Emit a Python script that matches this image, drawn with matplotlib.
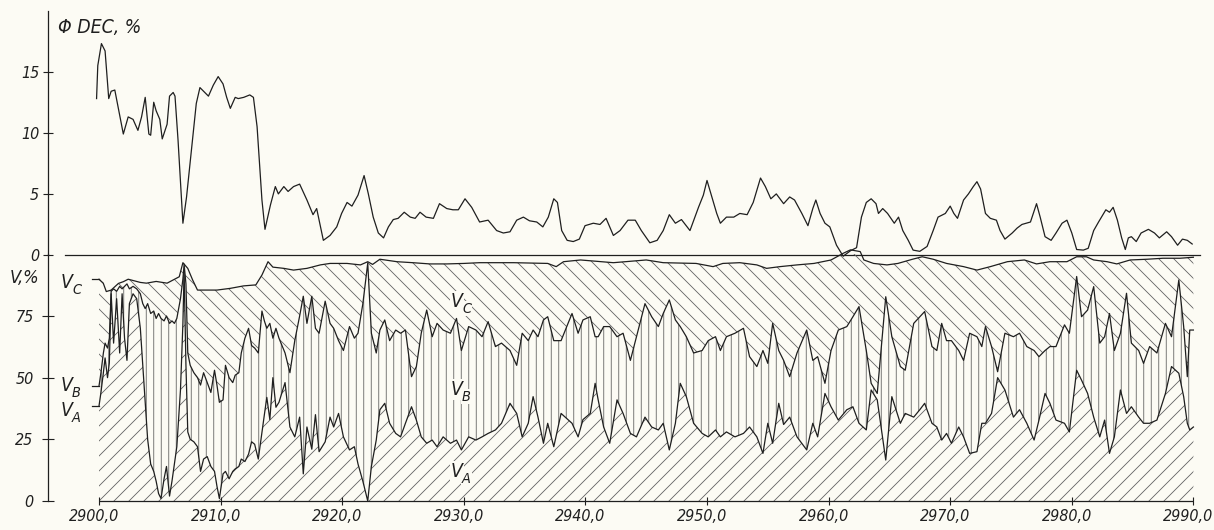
import os
import numpy as np
import matplotlib
matplotlib.use("Agg")
import matplotlib.pyplot as plt
import matplotlib.transforms as mtransforms
from matplotlib import font_manager as fm

# ---------------------------------------------------------------- data
XTICKS = [2900, 2910, 2920, 2930, 2940, 2950, 2960, 2970, 2980, 2990]
XTICK_LABELS = ["2900,0", "2910,0", "2920,0", "2930,0", "2940,0",
                "2950,0", "2960,0", "2970,0", "2980,0", "2990,0"]
DEC_TICKS = [0, 5, 10, 15]
V_TICKS = [0, 25, 50, 75]

# decompaction coefficient, %
DEC_DEPTH = [2899.8, 2899.9, 2900.2, 2900.5, 2900.8, 2901.0, 2901.3, 2902.0, 2902.4, 2902.8,
             2903.2, 2903.5, 2903.8, 2904.1, 2904.25, 2904.5, 2904.7, 2905.0, 2905.2, 2905.6,
             2905.8, 2906.1, 2906.25, 2906.5, 2906.9, 2907.2, 2907.6, 2908.0, 2908.3, 2908.6,
             2909.0, 2909.4, 2909.8, 2910.2, 2910.5, 2910.8, 2911.2, 2911.45, 2911.9, 2912.4,
             2912.7, 2913.0, 2913.4, 2913.65, 2914.1, 2914.5, 2914.75, 2915.2, 2915.55, 2916.0,
             2916.5, 2917.1, 2917.6, 2917.9, 2918.45, 2919.0, 2919.55, 2919.95, 2920.4, 2920.8,
             2921.3, 2921.8, 2922.15, 2922.55, 2922.97, 2923.4, 2923.8, 2924.2, 2924.6, 2925.1,
             2925.6, 2926.0, 2926.4, 2926.9, 2927.5, 2928.0, 2928.6, 2929.1, 2929.55, 2930.1,
             2930.65, 2931.3, 2932.0, 2932.7, 2933.25, 2933.8, 2934.35, 2934.9, 2935.4, 2936.0,
             2936.5, 2936.95, 2937.4, 2937.7, 2938.05, 2938.5, 2939.0, 2939.5, 2939.97, 2940.65,
             2941.2, 2941.7, 2942.3, 2942.85, 2943.5, 2944.1, 2944.6, 2945.3, 2945.9, 2946.4,
             2946.9, 2947.4, 2947.9, 2948.6, 2949.3, 2949.7, 2950.0, 2950.4, 2950.8, 2951.1,
             2951.6, 2952.2, 2952.7, 2953.3, 2953.8, 2954.4, 2954.8, 2955.25, 2955.7, 2956.3,
             2956.8, 2957.2, 2957.8, 2958.3, 2958.7, 2958.95, 2959.3, 2959.7, 2960.1, 2960.65,
             2961.2, 2961.8, 2962.3, 2962.7, 2963.1, 2963.5, 2963.9, 2964.1, 2964.45, 2964.85,
             2965.4, 2965.75, 2966.1, 2966.55, 2966.95, 2967.5, 2968.1, 2968.6, 2969.0, 2969.6,
             2970.0, 2970.3, 2970.6, 2971.1, 2971.5, 2971.9, 2972.2, 2972.5, 2972.9, 2973.3,
             2973.8, 2974.1, 2974.5, 2975.1, 2975.5, 2975.9, 2976.6, 2976.8, 2977.1, 2977.4,
             2977.8, 2978.3, 2978.7, 2979.2, 2979.6, 2980.0, 2980.4, 2980.95, 2981.35, 2981.8,
             2982.2, 2982.8, 2983.1, 2983.4, 2983.75, 2984.1, 2984.4, 2984.65, 2984.9, 2985.3,
             2985.7, 2986.3, 2986.8, 2987.2, 2987.8, 2988.2, 2988.7, 2989.1, 2989.5, 2989.9]
DEC = [12.8, 15.5, 17.3, 16.7, 12.8, 13.4, 13.5, 9.9, 11.3, 11.1,
       10.2, 11.3, 12.9, 9.9, 9.8, 12.5, 11.8, 11.1, 9.5, 10.7,
       13.0, 13.3, 13.0, 9.4, 2.6, 4.75, 8.6, 12.4, 13.7, 13.4,
       13.0, 13.9, 14.6, 14.0, 12.9, 12.0, 12.9, 12.8, 12.9, 13.1,
       12.9, 10.5, 4.5, 2.1, 4.1, 5.6, 5.0, 5.6, 5.2, 5.6,
       5.8, 4.5, 3.3, 3.8, 1.2, 1.6, 2.3, 3.4, 4.3, 4.0,
       4.9, 6.5, 5.0, 3.1, 1.8, 1.4, 2.3, 2.9, 3.0, 3.5,
       3.1, 3.0, 3.5, 3.1, 3.0, 4.2, 3.8, 3.7, 3.7, 4.6,
       3.9, 2.7, 2.85, 2.0, 1.8, 1.9, 2.85, 3.1, 2.8, 2.7,
       2.3, 3.1, 4.6, 4.3, 2.0, 1.2, 1.1, 1.3, 2.4, 2.6,
       2.5, 3.0, 1.6, 2.0, 2.85, 2.85, 2.0, 1.0, 1.2, 2.0,
       3.3, 2.6, 2.9, 2.0, 3.9, 4.9, 6.1, 4.75, 3.4, 2.6,
       3.1, 3.1, 3.4, 3.3, 4.3, 6.3, 5.6, 4.6, 5.0, 4.2,
       4.75, 4.5, 3.4, 2.4, 3.8, 4.5, 3.4, 2.6, 2.3, 0.8,
       -0.1, 0.35, 0.6, 3.1, 4.3, 4.6, 4.2, 3.4, 3.8, 3.4,
       2.6, 3.1, 2.0, 1.2, 0.4, 0.3, 0.7, 2.0, 3.1, 3.4,
       4.0, 3.4, 3.0, 4.5, 5.0, 5.6, 6.0, 5.4, 3.4, 3.0,
       2.85, 2.0, 1.3, 1.8, 2.2, 2.5, 2.7, 3.3, 4.2, 3.1,
       1.5, 1.2, 1.8, 2.6, 2.85, 1.8, 0.45, 0.4, 0.55, 2.0,
       2.7, 3.7, 3.5, 3.9, 2.85, 1.4, 0.45, 1.4, 1.5, 1.1,
       1.8, 2.1, 1.8, 1.4, 1.9, 1.5, 0.8, 1.3, 1.2, 0.9]

# cumulative volume fractions, %
VC_DEPTH = [2900.0, 2900.35, 2900.6, 2901.0, 2901.6, 2902.0, 2902.4, 2903.4, 2903.9, 2904.7,
            2905.6, 2906.1, 2906.6, 2906.9, 2907.3, 2907.7, 2908.1, 2909.7, 2910.8, 2911.9,
            2912.9, 2913.4, 2913.9, 2914.3, 2915.2, 2916.0, 2917.1, 2918.2, 2919.0, 2920.4,
            2921.5, 2922.1, 2922.5, 2923.1, 2924.5, 2925.8, 2927.2, 2928.6, 2930.0, 2931.3,
            2934.1, 2936.9, 2937.6, 2938.2, 2939.6, 2942.3, 2945.0, 2946.4, 2949.1, 2950.5,
            2951.3, 2952.7, 2954.1, 2954.9, 2956.0, 2957.4, 2958.8, 2960.2, 2961.2, 2961.8,
            2962.6, 2962.9, 2963.7, 2964.8, 2965.7, 2966.9, 2967.7, 2968.6, 2969.7, 2971.1,
            2972.2, 2973.3, 2974.7, 2976.1, 2977.1, 2978.2, 2979.6, 2980.4, 2981.2, 2981.8,
            2982.9, 2983.7, 2984.8, 2986.2, 2987.5, 2988.9, 2990.0]
V_C = [89.9, 88.3, 84.9, 85.5, 88.2, 88.9, 89.9, 88.6, 88.3, 89.0,
       88.3, 89.6, 90.9, 96.6, 94.3, 89.6, 85.5, 85.5, 86.2, 87.2,
       87.6, 91.6, 97.0, 94.8, 94.3, 93.6, 94.3, 95.7, 96.3, 96.3,
       95.7, 97.0, 95.9, 98.0, 97.0, 96.6, 96.1, 96.1, 96.3, 96.6,
       96.6, 96.3, 95.0, 97.0, 97.7, 96.6, 97.7, 96.6, 96.3, 95.0,
       96.3, 96.6, 95.7, 94.3, 95.0, 95.7, 96.3, 97.7, 100.4, 101.8,
       101.1, 97.7, 96.3, 95.7, 96.3, 98.0, 99.0, 98.0, 96.3, 95.0,
       93.6, 95.0, 97.0, 97.7, 96.1, 97.0, 97.0, 99.0, 99.0, 97.7,
       97.0, 96.1, 97.7, 98.0, 98.4, 98.4, 98.8]

V_DEPTH = [2900.0, 2900.16, 2900.36, 2900.5, 2900.7, 2900.85, 2901.0, 2901.2, 2901.45, 2901.7,
           2901.9, 2902.1, 2902.3, 2902.5, 2902.8, 2903.1, 2903.4, 2903.6, 2903.8, 2904.0,
           2904.25, 2904.5, 2904.7, 2904.9, 2905.1, 2905.35, 2905.55, 2905.8, 2906.0, 2906.2,
           2906.4, 2906.7, 2906.9, 2907.0, 2907.15, 2907.3, 2907.5, 2907.8, 2908.1, 2908.35,
           2908.6, 2908.9, 2909.2, 2909.5, 2909.7, 2909.9, 2910.2, 2910.4, 2910.7, 2911.0,
           2911.2, 2911.5, 2911.7, 2912.0, 2912.3, 2912.55, 2912.8, 2913.1, 2913.4, 2913.6,
           2913.8, 2914.05, 2914.3, 2914.55, 2914.8, 2915.3, 2915.7, 2916.1, 2916.5, 2916.8,
           2917.1, 2917.5, 2917.8, 2918.1, 2918.6, 2919.0, 2919.3, 2919.7, 2920.1, 2920.6,
           2921.0, 2921.3, 2921.7, 2922.1, 2922.4, 2922.8, 2923.1, 2923.5, 2923.9, 2924.4,
           2924.8, 2925.2, 2925.7, 2926.1, 2926.5, 2926.95, 2927.4, 2927.8, 2928.3, 2928.9,
           2929.4, 2929.8, 2930.4, 2931.0, 2931.5, 2932.0, 2932.6, 2933.1, 2933.8, 2934.35,
           2934.8, 2935.3, 2935.7, 2936.1, 2936.55, 2936.9, 2937.4, 2938.0, 2938.9, 2939.4,
           2939.8, 2940.4, 2940.8, 2941.05, 2941.5, 2942.0, 2942.6, 2943.1, 2943.7, 2944.2,
           2944.9, 2945.45, 2946.0, 2946.4, 2946.9, 2947.4, 2947.8, 2948.3, 2948.9, 2949.6,
           2950.1, 2950.7, 2951.1, 2951.6, 2952.3, 2953.0, 2953.5, 2954.1, 2954.6, 2955.0,
           2955.4, 2955.9, 2956.3, 2956.8, 2957.4, 2958.2, 2958.7, 2959.1, 2959.7, 2960.2,
           2960.8, 2961.5, 2962.0, 2962.5, 2963.1, 2963.5, 2964.0, 2964.7, 2965.2, 2965.9,
           2966.3, 2967.0, 2967.5, 2967.9, 2968.5, 2968.9, 2969.3, 2969.7, 2970.1, 2970.7,
           2971.1, 2971.6, 2972.2, 2972.6, 2972.9, 2973.4, 2973.9, 2974.5, 2975.2, 2975.7,
           2976.3, 2976.9, 2977.3, 2977.8, 2978.2, 2978.7, 2979.4, 2979.8, 2980.4, 2980.8,
           2981.3, 2981.8, 2982.3, 2982.7, 2983.1, 2983.5, 2984.0, 2984.5, 2984.9, 2985.5,
           2985.9, 2986.4, 2987.0, 2987.7, 2988.2, 2988.8, 2989.2, 2989.5, 2989.7, 2990.0]
V_B = [46.6, 52, 60, 64, 62, 66, 85, 86, 85, 87,
       86, 87, 88, 86, 87, 86, 84, 80, 78, 80,
       76, 77, 74, 76, 74, 73, 75, 72, 73, 72,
       74, 82, 90, 96, 88, 60, 55, 52, 50, 47,
       52, 48, 44, 53, 47, 40, 41, 55, 50, 48,
       51, 52, 60, 66, 70, 63, 62, 60, 77, 73,
       70, 72, 66, 70, 66, 60, 52, 65, 75, 83,
       72, 83, 70, 68, 81, 72, 70, 65, 61, 70.7,
       66, 68, 80, 96.4, 68, 60, 69.3, 73.4, 65, 69.3,
       68, 69.3, 50.4, 54.5, 68, 77.4, 66.6, 72, 69.3, 68,
       74, 61, 70.7, 69.3, 66.6, 72.7, 62.6, 64, 61, 55,
       68, 65, 69.3, 66.6, 73.4, 74.7, 65, 65, 76, 68,
       73.4, 74.7, 66.6, 66.6, 70.7, 70.7, 66.6, 68, 57, 66.6,
       80, 74.7, 70.7, 76, 81.5, 73.4, 70.7, 66.6, 60, 61,
       65, 66.6, 61, 66.6, 68, 70, 58.5, 54.5, 61, 55.8,
       72, 61, 57, 50.4, 60, 69.3, 57, 58.5, 47.7, 61,
       69.3, 70.7, 74.7, 78.8, 61, 47.7, 43.6, 82.8, 66.6, 54.5,
       53, 72, 74.7, 76.8, 62.6, 61, 72, 65, 65, 61,
       57, 68, 66.6, 62.6, 70.7, 62.6, 52.4, 68, 66.6, 68,
       62.6, 61, 58.5, 61, 62.6, 62.6, 71.4, 68, 91, 74.7,
       77.4, 86.9, 64, 66.6, 76, 61, 68, 84.2, 64, 61,
       55.8, 62.6, 60, 72, 66.6, 89.6, 70.7, 50.4, 69.3, 69.3]
V_A = [38.5, 44, 52, 58, 50, 56, 84, 64, 82, 60,
       84, 66, 57, 80, 84, 82, 70, 55, 40, 25,
       15, 12, 8, 3, 1, 9, 14, 2, 8, 15,
       22, 45, 72, 93, 55, 28, 25, 24, 22, 12,
       17, 18, 14, 12, 6, 1, 11, 12, 9, 12,
       13, 14, 17, 16, 19, 24, 23, 17, 28, 35,
       42, 33, 50, 38, 40, 48, 30, 26, 34, 11,
       30, 21, 35, 20, 24, 34, 30, 35.5, 26, 20.7,
       22, 15, 8, 0, 14, 24.7, 37, 39.6, 31.5, 27.4,
       26, 31.5, 38.2, 32.8, 26, 23.4, 24.7, 22, 26, 23.4,
       24.7, 20.7, 26, 24.7, 26, 27.4, 28.8, 31.5, 39.6, 35.5,
       26, 31.5, 42.3, 34, 23.4, 31.5, 22, 35.5, 31.5, 26,
       33, 35.5, 47.7, 41, 30, 23.4, 41, 35.5, 27.4, 26,
       34, 30, 28.8, 31.5, 20.7, 31.5, 47.7, 42.3, 31.5, 27.4,
       26, 28.8, 26, 28, 26, 27.4, 30, 26, 19.3, 31.5,
       23.4, 39.6, 31, 34, 26, 20.7, 31.5, 26, 43.6, 38.2,
       32.8, 37, 38.2, 31.5, 28.8, 45, 41, 16.6, 42.3, 31.5,
       35.5, 34, 37, 39.6, 31.5, 30, 24.7, 27.4, 23.4, 30,
       26, 19.3, 20, 31.5, 31.5, 35.5, 50, 45, 34, 37,
       31.5, 24.7, 32.8, 43.6, 39.6, 32.8, 31.5, 28, 53, 49,
       43.6, 34, 26, 32.8, 19.3, 26, 45, 35.5, 38.2, 34,
       31.5, 31.5, 32.8, 43.6, 54.5, 51.8, 42.3, 31.5, 28.8, 30]

# ---------------------------------------------------------------- style
PAPER = "#fcfbf4"
INK = "#1f1f1f"
HATCH = "#606060"
DPI = 90                  # 1 pt = 1.25 px; hatch cell = 90 px


def narrow_italic_font():
    """Pick a condensed italic face if one is installed."""
    files = set(fm.findSystemFonts()) | {f.fname for f in fm.fontManager.ttflist}
    wanted = ["liberationsansnarrow-italic", "dejavusanscondensed-oblique",
              "liberationsansnarrow-regular", "dejavusanscondensed."]
    for key in wanted:
        for path in sorted(files):
            if key in os.path.basename(path).lower().replace(" ", ""):
                return path
    return None


_path = narrow_italic_font()


def fp(size):
    if _path:
        return fm.FontProperties(fname=_path, size=size)
    return fm.FontProperties(family=["Liberation Sans", "DejaVu Sans"],
                             style="italic", size=size)


plt.rcParams.update({"hatch.linewidth": 0.65})

W, H = 1214, 530
PX_PER_M = 12.16          # horizontal scale, pixels per metre
X0_PX = 99                # pixel column of the first depth tick
SPINE_PX, RIGHT_PX = 48, 1200
x_left = XTICKS[0] - (X0_PX - SPINE_PX) / PX_PER_M
x_right = XTICKS[-1] + (RIGHT_PX - (X0_PX + PX_PER_M * (XTICKS[-1] - XTICKS[0]))) / PX_PER_M

fig = plt.figure(figsize=(W / DPI, H / DPI), dpi=DPI, facecolor=PAPER)


def box(top_px, bottom_px):
    return [SPINE_PX / W, 1 - bottom_px / H, (RIGHT_PX - SPINE_PX) / W,
            (bottom_px - top_px) / H]


ax_dec = fig.add_axes(box(10.6, 255))
ax_v = fig.add_axes(box(254.3, 501))

for ax in (ax_dec, ax_v):
    ax.set_facecolor("none")
    ax.set_xlim(x_left, x_right)
    for side in ("top", "right", "bottom"):
        ax.spines[side].set_visible(False)
    ax.spines["left"].set_color(INK)
    ax.spines["left"].set_linewidth(1.0)

LW = 1.0
TICK_FP = fp(12.8)

# ---------------------------------------------------------------- upper panel
ax_dec.set_ylim(0, 20)
ax_dec.plot(DEC_DEPTH, DEC, color=INK, lw=LW, clip_on=False, zorder=4)
ax_dec.axhline(0, xmin=(65 - SPINE_PX) / (RIGHT_PX - SPINE_PX), xmax=1,
               color=INK, lw=1.0, clip_on=False, zorder=5)
ax_dec.set_xticks([])
ax_dec.set_yticks(DEC_TICKS)
ax_dec.set_yticklabels([str(t) for t in DEC_TICKS], fontproperties=TICK_FP)
ax_dec.tick_params(axis="y", direction="inout", length=8, width=0.9,
                   color=INK, pad=3, labelcolor=INK)
fig.text(58 / W, 1 - 33 / H, "Φ DEC, %", fontproperties=fp(15.5), color=INK,
         ha="left", va="baseline")

# ---------------------------------------------------------------- lower panel
ax_v.set_ylim(0, 100)
dA = np.asarray(V_DEPTH)
vA = np.asarray(V_A)
vB = np.asarray(V_B)
dC = np.asarray(VC_DEPTH)
vC = np.asarray(V_C)

# V_A : from zero up to the lower curve
ax_v.fill(np.r_[dA[0], dA, dA[-1]], np.r_[0, vA, 0], facecolor="none",
          edgecolor=HATCH, hatch="//", lw=0, zorder=1)
# V_B : between the lower and middle curve
ax_v.fill(np.r_[dA, dA[::-1]], np.r_[vB, vA[::-1]], facecolor="none",
          edgecolor=HATCH, hatch="||", lw=0, zorder=1)
# V_C : between the middle and upper curve
ax_v.fill(np.r_[dC, dA[::-1]], np.r_[vC, vB[::-1]], facecolor="none",
          edgecolor=HATCH, hatch="\\\\", lw=0, zorder=1)

for d, v in ((dA, vA), (dA, vB), (dC, vC)):
    ax_v.plot(d, v, color=INK, lw=LW, clip_on=False, zorder=4)

V_FP = fp(15.5)
SUB_FP = fp(11.5)


def v_label(x, y, sub, dx=0.0, dy=0.0, bg=False):
    """Italic V with a lowered subscript; (dx, dy) offset in points."""
    kw = dict(textcoords="offset points", va="baseline", color=INK,
              annotation_clip=False, zorder=6)
    if bg:
        kw["bbox"] = dict(boxstyle="square,pad=0.05", fc=PAPER, ec="none")
    ax_v.annotate("V", xy=(x, y), xytext=(dx, dy), ha="right",
                  fontproperties=V_FP, **kw)
    ax_v.annotate(sub, xy=(x, y), xytext=(dx - 0.5, dy - 4.5), ha="left",
                  fontproperties=SUB_FP, **kw)


# short leaders from the left-hand labels into each curve
lead = 7 / PX_PER_M
for d, v, sub, dy in ((dC, vC, "C", -7), (dA, vB, "B", -4),
                      (dA, vA, "A", -8)):
    ax_v.plot([d[0] - lead, d[0]], [v[0], v[0]], color=INK, lw=LW,
              clip_on=False, zorder=4)
    v_label(d[0], v[0], sub, dx=-21, dy=dy)

# in-field labels of the three fractions
for sub, yv in (("C", 80.7), ("B", 45.0), ("A", 11.8)):
    v_label(2929.9, yv, sub, dx=0, dy=-4, bg=True)

# depth axis: line drawn only over the logged interval
ax_v.hlines(0, XTICKS[0], XTICKS[-1], color=INK, lw=1.0, clip_on=False, zorder=5)
ax_v.set_xticks(XTICKS)
ax_v.set_xticklabels(XTICK_LABELS, fontproperties=TICK_FP)
ax_v.tick_params(axis="x", direction="inout", length=6, width=0.9, color=INK,
                 pad=3.5, labelcolor=INK)
# italic labels sit a little to the left of their ticks
shift = mtransforms.ScaledTranslation(-5 / DPI, 0, fig.dpi_scale_trans)
for lab in ax_v.get_xticklabels():
    lab.set_transform(lab.get_transform() + shift)
ax_v.set_yticks(V_TICKS)
ax_v.set_yticklabels([str(t) for t in V_TICKS], fontproperties=TICK_FP)
ax_v.tick_params(axis="y", direction="inout", length=9, width=0.9,
                 color=INK, pad=7, labelcolor=INK)
fig.text(10 / W, 1 - 283 / H, "V,%", fontproperties=fp(14.5), color=INK,
         ha="left", va="baseline")

fig.savefig("out.png", dpi=DPI, facecolor=PAPER)
